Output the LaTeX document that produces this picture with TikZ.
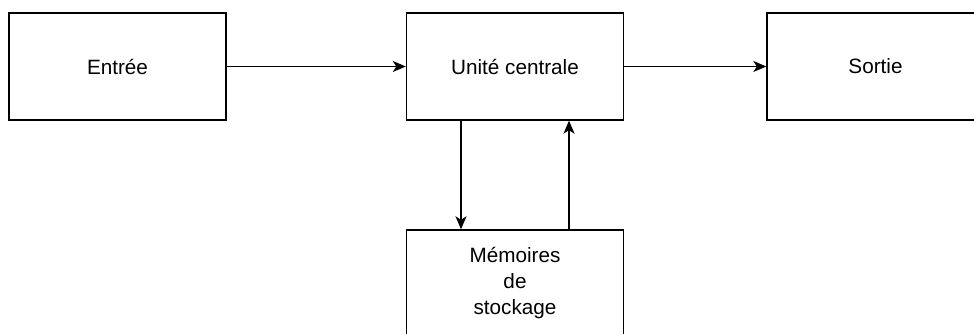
\documentclass[tikz,border=0pt]{standalone}
\usepackage{fontspec}
\setmainfont{Liberation Sans}
\usetikzlibrary{arrows.meta}

\begin{document}
\begin{tikzpicture}[x=1pt,y=-1pt,->,>={Stealth[length=13pt,width=11pt,inset=3.5pt]},shorten >=0pt,line width=1.4pt,bloc/.style={rectangle,draw,-,minimum width=217pt,minimum height=107pt,inner sep=0pt,align=center,font=\fontsize{20.7}{26}\selectfont}]

  \useasboundingbox (0,0) rectangle (974,334);
  \clip (0,0) rectangle (974,334);

  \node[bloc] (entree) at (117.5,66.5) {Entrée};
  \node[bloc] (cpu) at (515,66.5) {Unité centrale};
  \node[bloc] (sortie) at (875.5,66.5) {Sortie};
  \node[bloc] (mem) at (515,283.5) {Mémoires\\de\\stockage};

  \path[->]
       (entree) edge (cpu)
       (cpu) edge (sortie)
       ([xshift=-54pt]cpu.south) edge ([xshift=-54pt]mem.north)
       ([xshift=54pt]mem.north) edge ([xshift=54pt]cpu.south);
\end{tikzpicture}
\end{document}
